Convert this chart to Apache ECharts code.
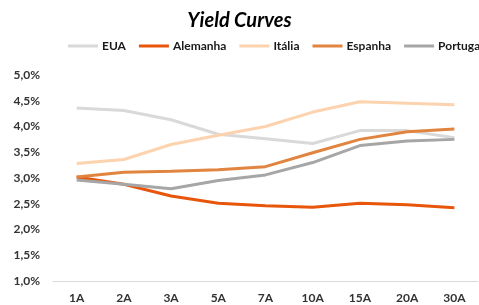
<!DOCTYPE html>
<html style="height: 100%">
<head>
    <meta charset="UTF-8">
    <title>Yield Curves</title>
    <script src="https://cdn.jsdelivr.net/npm/echarts/dist/echarts.min.js"></script>
    <style>
        #main { width: 479px; height: 305px; }
    </style>
</head>
<body style="height: 100%; margin: 0; background: #fff">
    <div id="main"></div>
    <script type="text/javascript">
        var maturities = ['1A', '2A', '3A', '5A', '7A', '10A', '15A', '20A', '30A'];
        var eua      = [4.36, 4.31, 4.13, 3.85, 3.76, 3.67, 3.92, 3.92, 3.78];
        var alemanha = [3.02, 2.88, 2.65, 2.51, 2.46, 2.43, 2.51, 2.48, 2.42];
        var italia   = [3.28, 3.36, 3.65, 3.83, 4.00, 4.28, 4.48, 4.45, 4.42];
        var espanha  = [3.02, 3.11, 3.13, 3.16, 3.22, 3.49, 3.75, 3.90, 3.95];
        var portugal = [2.96, 2.88, 2.79, 2.95, 3.06, 3.30, 3.63, 3.72, 3.75];

        var chartDom = document.getElementById('main');
        var myChart = echarts.init(chartDom);
        var font = 'Lato, "Open Sans", sans-serif';

        function line(name, data, color) {
            return {
                name: name,
                type: 'line',
                data: data,
                symbol: 'none',
                lineStyle: { width: 3, color: color },
                itemStyle: { color: color }
            };
        }

        var option = {
            animation: false,
            title: {
                text: 'Yield Curves',
                left: 'center',
                top: 6,
                textStyle: {
                    fontFamily: font,
                    fontSize: 20,
                    fontWeight: 'bold',
                    fontStyle: 'italic',
                    color: '#000'
                }
            },
            legend: {
                left: 68,
                top: 40,
                padding: 0,
                width: 700,
                itemWidth: 30,
                itemHeight: 3,
                itemGap: 13,
                icon: 'rect',
                textStyle: {
                    fontFamily: font,
                    fontSize: 12,
                    fontWeight: 'bold',
                    color: '#1a1a1a',
                    padding: [0, 0, 0, -1]
                }
            },
            grid: {
                left: 53,
                right: 1,
                top: 75,
                bottom: 24
            },
            xAxis: {
                type: 'category',
                data: maturities,
                boundaryGap: true,
                axisLine: { lineStyle: { color: '#d9d9d9', width: 1 } },
                axisTick: { show: false },
                axisLabel: {
                    margin: 11,
                    fontFamily: font,
                    fontSize: 12,
                    fontWeight: 'bold',
                    color: '#333'
                }
            },
            yAxis: {
                type: 'value',
                min: 1,
                max: 5,
                interval: 0.5,
                splitLine: { show: false },
                axisLine: { show: false },
                axisTick: { show: false },
                axisLabel: {
                    margin: 13,
                    fontFamily: font,
                    fontSize: 12,
                    fontWeight: 'bold',
                    color: '#333',
                    formatter: function (v) { return v.toFixed(1).replace('.', ',') + '%'; }
                }
            },
            series: [
                line('EUA', eua, '#d9d9d9'),
                line('Alemanha', alemanha, '#e8560c'),
                line('Itália', italia, '#fcd3ae'),
                line('Espanha', espanha, '#e0843f'),
                line('Portugal', portugal, '#a6a6a6')
            ]
        };

        myChart.setOption(option);
    </script>
</body>
</html>
